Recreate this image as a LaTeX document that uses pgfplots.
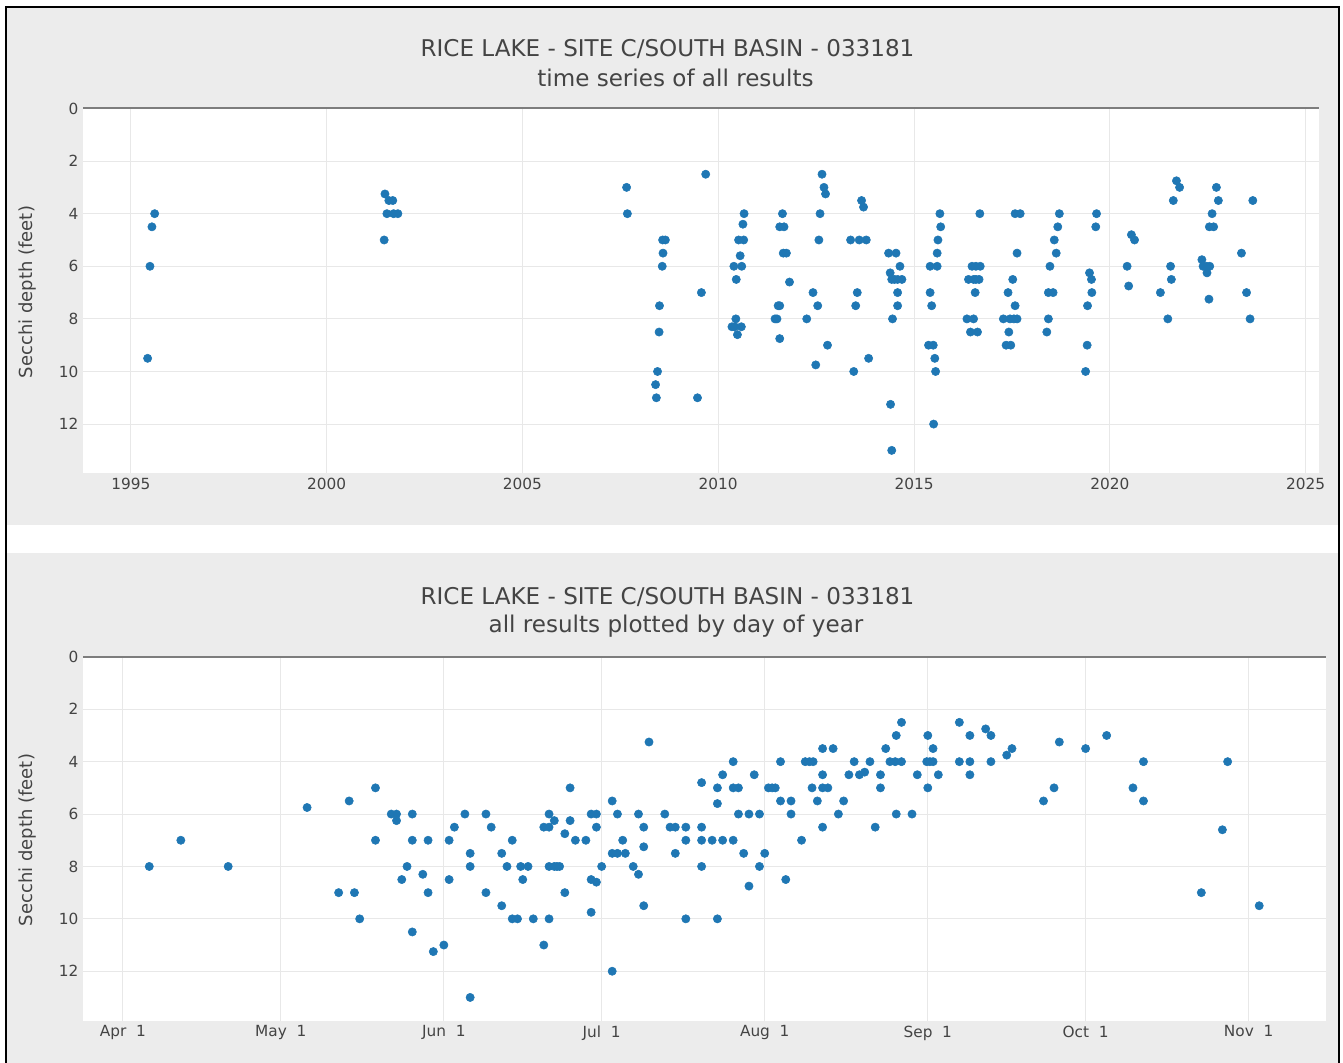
\documentclass[border=0pt]{standalone}
\usepackage{fontspec}
\setmainfont{DejaVu Sans}
\usepackage{pgfplots}
\pgfplotsset{compat=1.18}

\definecolor{paperbg}{RGB}{236,236,236}
\definecolor{txt}{RGB}{68,68,68}
\definecolor{gridc}{RGB}{232,232,232}
\definecolor{zeroc}{RGB}{125,125,125}
\definecolor{dotc}{RGB}{31,119,180}

% shared look of both panels (1px = 0.75pt)
\pgfplotsset{
  secchi/.style={
    scale only axis,
    anchor=south west,
    axis line style={draw=none},
    axis background/.style={fill=white},
    y dir=reverse,
    ymin=0,
    major tick length=0pt,
    ytick={0,2,...,12},
    grid=major,
    grid style={gridc, line width=0.75pt},
    tick label style={font=\fontsize{11.5}{13}\selectfont, text=txt},
    /pgf/number format/assume math mode=true,
    clip=false,
  },
  dots/.style={only marks, mark=*, mark size=3.1pt, mark options={draw=dotc, fill=dotc}},
}

\begin{document}
\begin{tikzpicture}
\path[use as bounding box] (0,0) rectangle (1007.25pt,-797.25pt);
\fill[white] (0,0) rectangle (1007.25pt,-797.25pt);
\fill[paperbg] (5.25pt,-6pt) rectangle (1003.5pt,-393.75pt);
\fill[paperbg] (5.25pt,-414.75pt) rectangle (1003.5pt,-805pt);
\draw[black, line width=1.5pt] (4.5pt,-5.25pt) rectangle (1004.25pt,-805pt);

% titles
\node[text=txt, font=\fontsize{17.3}{20}\selectfont] at (500.6pt,-36.75pt) {RICE LAKE - SITE C/SOUTH BASIN - 033181};
\node[text=txt, font=\fontsize{17.3}{20}\selectfont] at (506.6pt,-58.5pt) {time series of all results};
\node[text=txt, font=\fontsize{17.3}{20}\selectfont] at (500.6pt,-447.75pt) {RICE LAKE - SITE C/SOUTH BASIN - 033181};
\node[text=txt, font=\fontsize{17.3}{20}\selectfont] at (507pt,-469.5pt) {all results plotted by day of year};
\node[text=txt, rotate=90, font=\fontsize{13.5}{16}\selectfont] at (21pt,-219pt) {Secchi depth (feet)};
\node[text=txt, rotate=90, font=\fontsize{13.5}{16}\selectfont] at (21pt,-630pt) {Secchi depth (feet)};

% time series
\begin{axis}[secchi,
  at={(62.25pt,-354.75pt)}, width=927pt, height=273.4pt,
  xmin=1993.78, xmax=2025.34, ymax=13.86,
  xtick={1995,2000,...,2025},
  xticklabel style={/pgf/number format/1000 sep={}},
]
\draw[zeroc, line width=1.5pt] (axis cs:1993.78,0) -- (axis cs:2025.34,0);
\addplot[dots] coordinates {
(1995.43,9.5) (1995.49,6) (1995.54,4.5) (1995.61,4)
(2001.47,5) (2001.49,3.25) (2001.54,4) (2001.59,3.5) (2001.69,3.5) (2001.71,4) (2001.82,4)
(2007.66,3) (2007.68,4)
(2008.40,10.5) (2008.42,11) (2008.45,10) (2008.49,8.5) (2008.50,7.5) (2008.57,6) (2008.59,5.5) (2008.58,5) (2008.65,5)
(2009.47,11) (2009.57,7) (2009.68,2.5)
(2010.35,8.3) (2010.40,6) (2010.42,8.3) (2010.45,8) (2010.46,6.5) (2010.49,8.6) (2010.52,5) (2010.56,5.6)
(2010.59,8.3) (2010.60,6) (2010.63,4.4) (2010.65,5) (2010.66,4)
(2011.45,8) (2011.50,8) (2011.53,7.5) (2011.57,7.5) (2011.57,8.75) (2011.57,4.5) (2011.68,4.5) (2011.64,4)
(2011.66,5.5) (2011.74,5.5) (2011.82,6.6)
(2012.26,8) (2012.42,7) (2012.49,9.75) (2012.54,7.5) (2012.57,5) (2012.60,4) (2012.65,2.5) (2012.70,3)
(2012.74,3.25) (2012.79,9)
(2013.38,5) (2013.46,10) (2013.51,7.5) (2013.55,7) (2013.60,5) (2013.66,3.5) (2013.71,3.75) (2013.78,5) (2013.84,9.5)
(2014.35,5.5) (2014.39,6.25) (2014.40,11.25) (2014.43,13) (2014.43,6.5) (2014.45,8) (2014.54,5.5) (2014.50,6.5)
(2014.58,7) (2014.58,7.5) (2014.58,6.5) (2014.64,6) (2014.69,6.5)
(2015.37,9) (2015.41,6) (2015.41,7) (2015.45,7.5) (2015.49,9) (2015.50,12) (2015.53,9.5) (2015.55,10)
(2015.59,6) (2015.59,5.5) (2015.61,5) (2015.66,4) (2015.68,4.5)
(2016.35,8) (2016.39,6.5) (2016.44,8.5) (2016.48,6) (2016.52,8) (2016.52,6.5) (2016.56,7) (2016.58,6)
(2016.58,6.5) (2016.62,8.5) (2016.68,4) (2016.69,6) (2016.66,6.5)
(2017.28,8) (2017.35,9) (2017.40,7) (2017.42,8.5) (2017.47,9) (2017.45,8) (2017.52,6.5) (2017.58,7.5)
(2017.58,4) (2017.63,8) (2017.63,5.5) (2017.71,4) (2017.55,8)
(2018.39,8.5) (2018.43,8) (2018.43,7) (2018.47,6) (2018.55,7) (2018.58,5) (2018.63,5.5) (2018.67,4.5) (2018.71,4)
(2019.38,10) (2019.42,9) (2019.43,7.5) (2019.48,6.25) (2019.53,6.5) (2019.54,7) (2019.64,4.5) (2019.66,4)
(2020.44,6) (2020.48,6.75) (2020.55,4.8) (2020.63,5)
(2021.29,7) (2021.48,8) (2021.55,6) (2021.57,6.5) (2021.62,3.5) (2021.70,2.75) (2021.78,3)
(2022.35,5.75) (2022.38,6) (2022.47,6) (2022.48,6.25) (2022.53,7.25) (2022.55,6) (2022.54,4.5) (2022.61,4)
(2022.65,4.5) (2022.72,3) (2022.77,3.5)
(2023.36,5.5) (2023.49,7) (2023.58,8) (2023.65,3.5)
};
\end{axis}

% by day of year (x = days after Apr 1)
\begin{axis}[secchi,
  at={(62.25pt,-765.75pt)}, width=932.25pt, height=273.1pt,
  xmin=-7.6, xmax=228.7, ymax=13.9,
  xtick={0,30,61,91,122,153,183,214},
  xticklabels={Apr\ \ 1,May\ \ 1,Jun\ \ 1,Jul\ \ 1,Aug\ \ 1,Sep\ \ 1,Oct\ \ 1,Nov\ \ 1},
]
\draw[zeroc, line width=1.5pt] (axis cs:-7.6,0) -- (axis cs:228.7,0);
\addplot[dots] coordinates {
(5,8) (11,7) (20,8) (35,5.75) (41,9) (43,5.5) (44,9) (45,10) (48,5) (48,7)
(51,6) (52,6) (52,6.25) (53,8.5) (54,8) (55,6) (55,7) (55,10.5) (57,8.3) (58,7)
(58,9) (59,11.25) (61,11) (62,7) (62,8.5) (63,6.5) (65,6) (66,7.5) (66,8) (66,13)
(69,6) (69,9) (70,6.5) (72,7.5) (72,9.5) (73,8) (74,7) (74,10) (75,10) (75.6,8)
(76,8.5) (77,8) (78,10) (80,11) (80,6.5) (81,6) (81,6.5) (81,8) (81,10) (82,8)
(82,6.25) (82.5,8) (83,8) (84,6.75) (84,9) (85,5) (85,6.25) (86,7) (88,7) (89,6)
(89,8.5) (89,9.75) (90,6) (90,6.5) (90,8.6) (91,8) (93,5.5) (93,7.5) (93,12) (94,6)
(94,7.5) (95,7) (95.5,7.5) (97,8) (98,6) (98,8.3) (99,6.5) (99,7.25) (99,9.5) (100,3.25)
(103,6) (104,6.5) (105,6.5) (105,7.5) (107,6.5) (107,7) (107,10) (110,6.5) (110,7) (110,8)
(110,4.8) (112,7) (113,10) (113,5) (113,5.6) (114,7) (114,4.5) (116,7) (116,4) (116,5)
(117,5) (117,6) (118,7.5) (119,6) (119,8.75) (120,4.5) (121,6) (121,8) (122,7.5) (122.7,5)
(123.4,5) (124,5) (125,4) (125,5.5) (126,8.5) (127,5.5) (127,6) (129,7) (129.7,4) (130.5,4)
(131.2,4) (131,5) (132,5.5) (133,3.5) (133,4.5) (133,5) (134,5) (133,6.5) (135,3.5) (136,6)
(137,5.5) (138,4.5) (139,4) (140,4.5) (141,4.4) (142,4) (143,6.5) (144,4.5) (144,5) (145,3.5)
(145.8,4) (146.8,4) (148,4) (147,3) (148,2.5) (147,6) (150,6) (151,4.5) (153,3) (154,3.5)
(152.8,4) (153.4,4) (154,4) (153,5) (155,4.5) (159,2.5) (159,4) (161,3) (161,4) (161,4.5)
(164,2.75) (165,3) (165,4) (168,3.75) (169,3.5) (175,5.5) (177,5) (178,3.25) (183,3.5) (187,3)
(192,5) (194,4) (194,5.5) (205,9) (209,6.6) (210,4) (216,9.5)
};
\end{axis}
\end{tikzpicture}
\end{document}
